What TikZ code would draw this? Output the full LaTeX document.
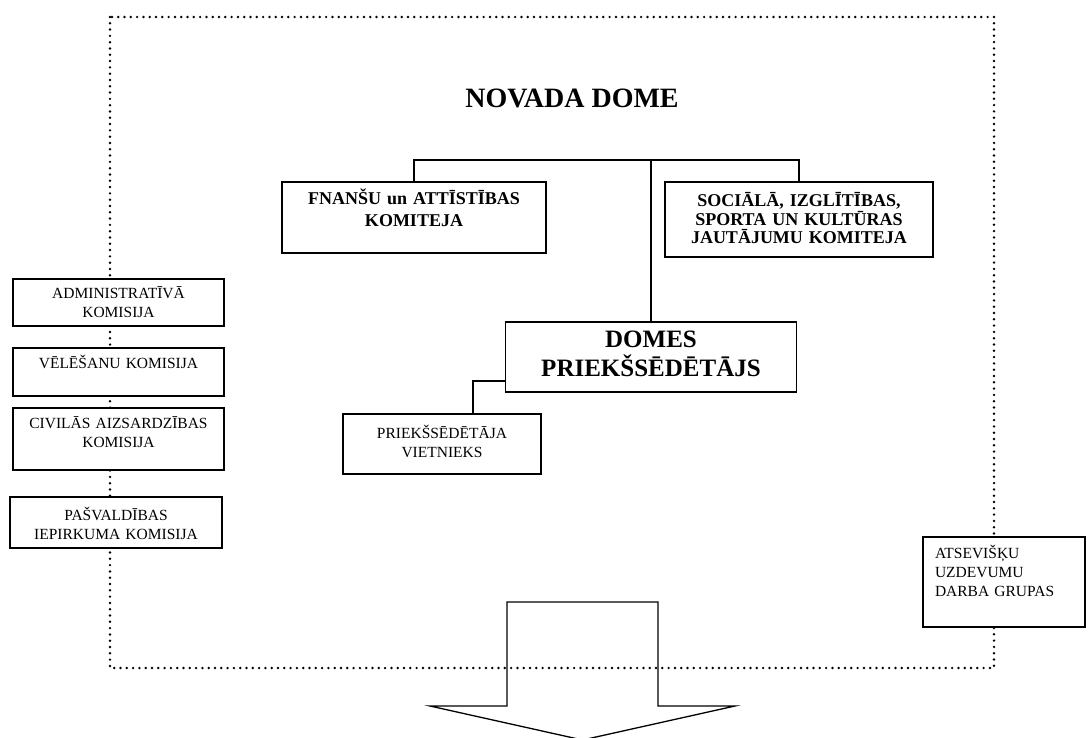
\documentclass[tikz,border=0pt]{standalone}
\usepackage{fontspec}
\setmainfont{Liberation Serif}
\begin{document}
\begin{tikzpicture}[x=1pt, y=-1pt]
        \tikzstyle{frame} = [line width=2.7pt, line cap=round, dash pattern=on 0pt off 6.3pt]
        \tikzstyle{proc} = [rectangle, draw=black, fill=white, line width=1.2pt, inner sep=0pt, align=center]
        \tikzstyle{small} = [proc, font=\fontsize{15.5}{19}\selectfont]
        \tikzstyle{big} = [proc, font=\fontsize{18}{22}\selectfont\bfseries]
        \tikzstyle{line} = [line width=1.3pt]
        \useasboundingbox (0, 0) rectangle (1088, 738);
        \draw[frame] (110, 17) rectangle (994, 668);
        \node (t) [anchor=base, font=\fontsize{28}{33}\selectfont\bfseries] at (572, 108) {NOVADA DOME};
        \node (fin) [big, text width=264pt, text height=23pt, text depth=48pt] at (414, 217.5) {FNANŠU un ATTĪSTĪBAS\\KOMITEJA};
        \node (soc) [big, font=\fontsize{18}{18.5}\selectfont\bfseries, text width=268pt, text height=25pt, text depth=50pt] at (799, 219.5) {SOCIĀLĀ, IZGLĪTĪBAS,\\SPORTA UN KULTŪRAS\\JAUTĀJUMU KOMITEJA};
        \node (pri) [proc, font=\fontsize{25}{28.5}\selectfont\bfseries, text width=291pt, text height=26pt, text depth=44pt] at (651, 357) {DOMES\\PRIEKŠSĒDĒTĀJS};
        \node (vie) [small, text width=198pt, text height=24pt, text depth=36pt] at (442, 444) {PRIEKŠSĒDĒTĀJA\\VIETNIEKS};
        \node (adm) [small, text width=211pt, text height=20pt, text depth=27pt] at (118.5, 302.5) {ADMINISTRATĪVĀ\\KOMISIJA};
        \node (vel) [small, text width=211pt, text height=21pt, text depth=27pt] at (118.5, 372) {VĒLĒŠANU KOMISIJA};
        \node (civ) [small, text width=211pt, text height=20pt, text depth=42pt] at (118.5, 439) {CIVILĀS AIZSARDZĪBAS\\KOMISIJA};
        \node (pas) [small, text width=212pt, text height=23pt, text depth=28pt] at (116, 522.5) {PAŠVALDĪBAS\\IEPIRKUMA KOMISIJA};
        \node (ats) [small, align=left, text width=138pt, inner xsep=12pt, text height=21pt, text depth=69pt] at (1004, 582) {ATSEVIŠĶU\\UZDEVUMU\\DARBA GRUPAS};
        \coordinate (h) at (651, 160);
        \draw[line] (fin.north) |- (h) -| (soc.north);
        \draw[line] (h) to (pri.north);
        \draw[line] (pri.west) ++(0, 24) -| ([xshift=31pt]vie.north);
        % big arrow at the bottom
        \draw[line] (430, 706) -- (507, 706) -- (507, 602) -- (658, 602) -- (658, 706) -- (735, 706) -- (582.5, 740) -- cycle;
\end{tikzpicture}
\end{document}
